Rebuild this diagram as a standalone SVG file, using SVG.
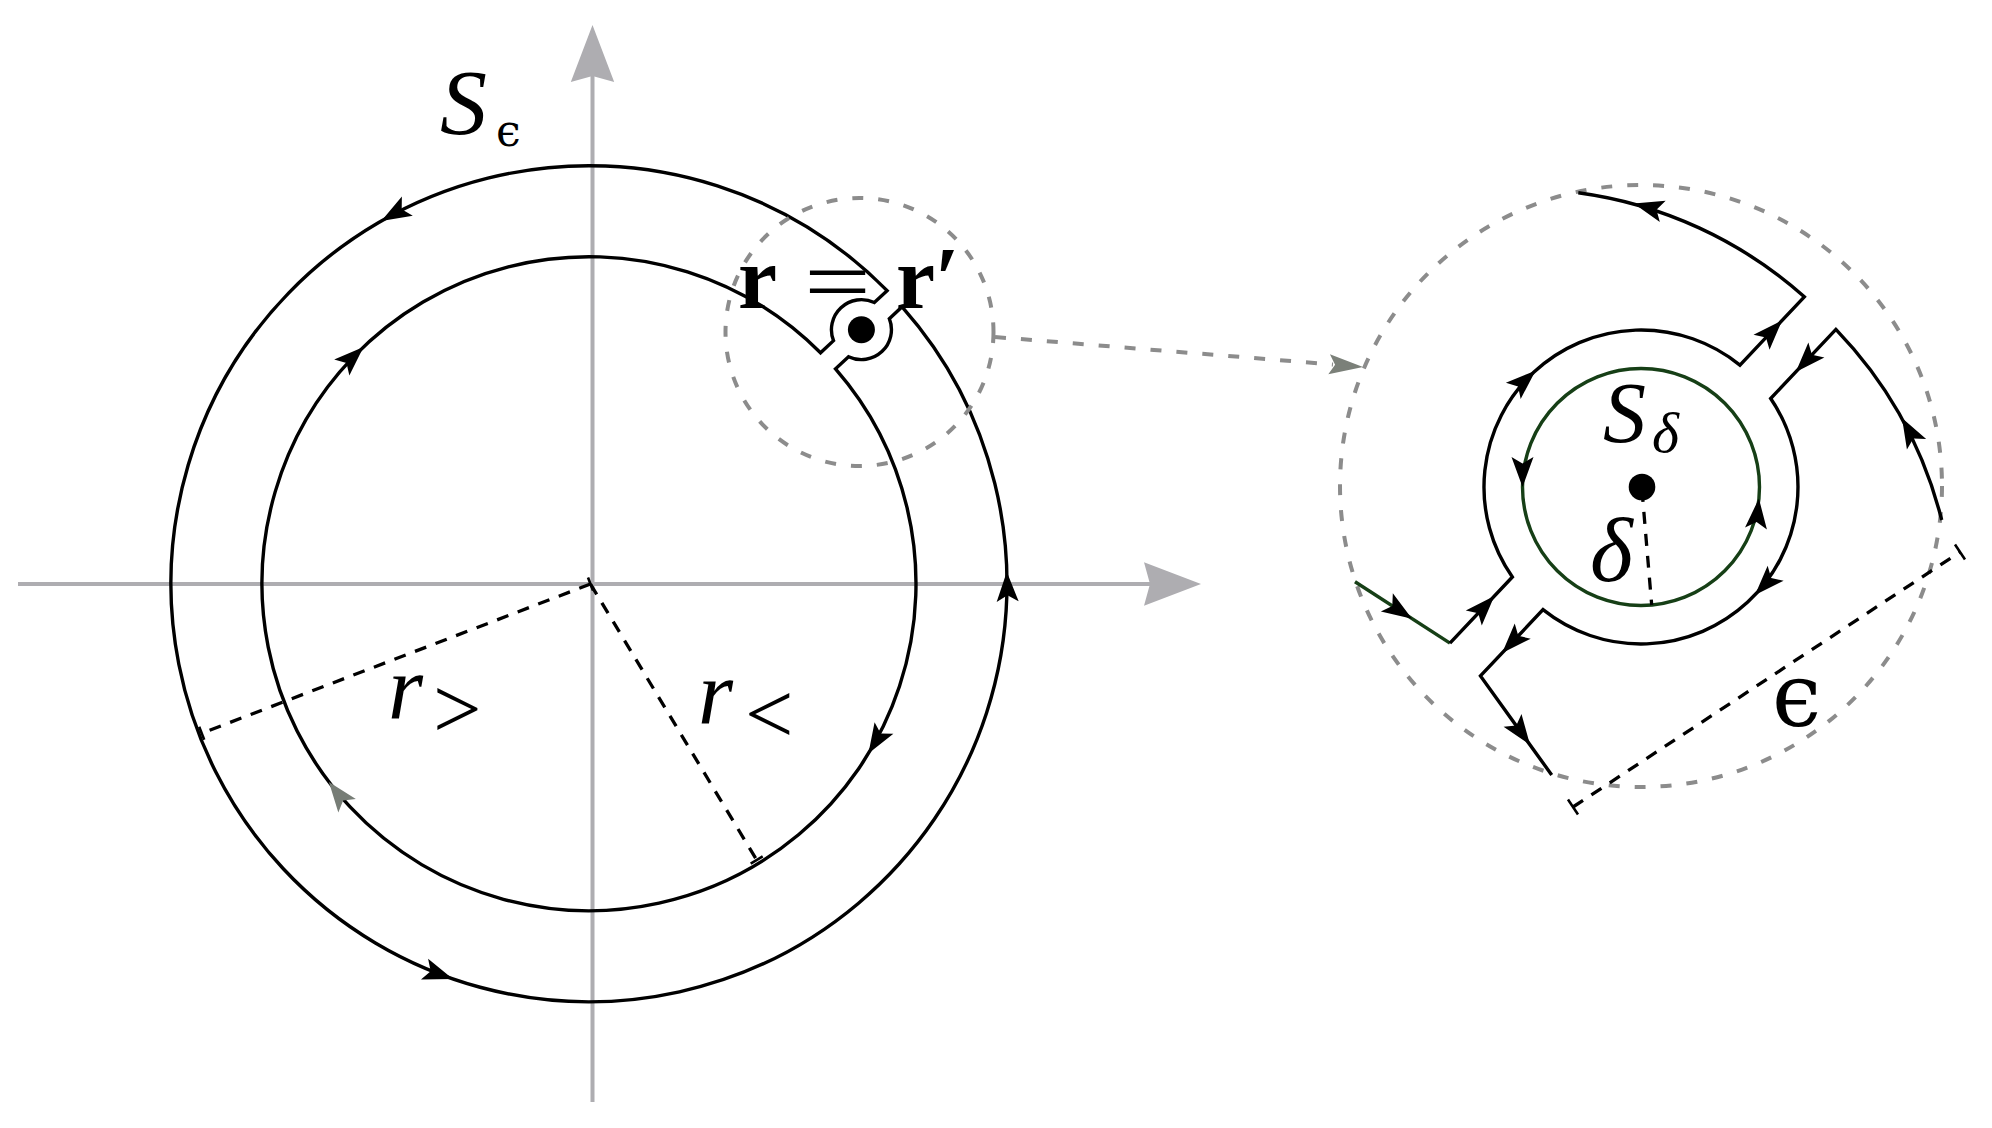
<svg xmlns="http://www.w3.org/2000/svg" xmlns:xlink="http://www.w3.org/1999/xlink" width="1992" height="1128" viewBox="0 0 1992 1128">
<style>
.ln{fill:none;stroke:#000;stroke-width:3.4;stroke-linejoin:miter;stroke-miterlimit:10}
.gr{fill:none;stroke:#163f16;stroke-width:3.4}
.dsh{fill:none;stroke:#000;stroke-width:3.3;stroke-dasharray:12 10}
.gdsh{fill:none;stroke:#8c8c8c;stroke-width:4;stroke-dasharray:11 15}
.axis{fill:none;stroke:#aeadb1;stroke-width:4}
.tick{fill:none;stroke:#000;stroke-width:2.6}
.mi{font-family:"Liberation Serif","DejaVu Serif",serif;font-style:italic;fill:#000}
.bf{font-family:"Liberation Serif","DejaVu Serif",serif;font-weight:bold;fill:#000}
.rm{font-family:"Liberation Serif","DejaVu Serif",serif;fill:#000}
.eps{font-family:"DejaVu Serif","Liberation Serif",serif;fill:#000}
</style>
<defs>
<path id="ah" d="M0,0 L-30,-11 L-23.5,0 L-30,11 Z"/>
<path id="axh" d="M0,0 L-57,-21.7 L-51,0 L-57,21.7 Z" fill="#aeadb1"/>
<path id="gah" d="M0,0 L-34,-10 L-28,0 L-34,10 Z" fill="#7b8079"/>
</defs>
<rect width="1992" height="1128" fill="#fff"/>

<g id="axes">
<line class="axis" x1="18" y1="584" x2="1150" y2="584"/>
<line class="axis" x1="592.5" y1="1102" x2="592.5" y2="76"/>
<use href="#axh" transform="translate(1201,584)"/>
<use href="#axh" transform="translate(592.5,25) rotate(-90)"/>
</g>

<g id="radii">
<line class="dsh" x1="590.5" y1="584" x2="201.7" y2="733.3"/>
<line class="tick" x1="199.2" y1="726.8" x2="204.2" y2="739.8"/>
<line class="tick" x1="588" y1="577.5" x2="593" y2="590.5"/>
<line class="dsh" x1="590.5" y1="584" x2="756.7" y2="860"/>
<line class="tick" x1="750.7" y1="863.6" x2="762.7" y2="856.4"/>
</g>

<g id="contour-main">
<path class="ln" transform="translate(589 583.7) rotate(-43)" d="M417.855,-11 A418,418 0 1 0 417.855,11 L400.41,11 A30,30 0 0 1 344.59,11 L326.815,11 A327,327 0 1 1 326.815,-11 L344.59,-11 A30,30 0 0 1 400.41,-11 Z"/>
<circle cx="861.4" cy="329.7" r="13.5" fill="#000"/>
<use href="#ah" transform="translate(1006.8,571.7) rotate(-91.65)"/>
<use href="#ah" transform="translate(381.3,221) rotate(150.2)"/>
<use href="#ah" transform="translate(452.9,978.9) rotate(19)"/>
<use href="#ah" transform="translate(363.5,346.9) rotate(-43.6)"/>
<use href="#ah" transform="translate(868.4,753.6) rotate(121.3)"/>
<use href="#ah" fill="#777d76" transform="translate(328.9,781.9) rotate(232.7)"/>
</g>

<g id="zoom-source">
<circle class="gdsh" cx="859.5" cy="332" r="134"/>
</g>

<g id="labels-main">
<text class="mi" x="440" y="134" font-size="94">S</text>
<text class="eps" x="496" y="146" font-size="44">ϵ</text>
<text class="bf" x="738" y="308" font-size="88">r</text>
<text class="rm" x="0" y="0" font-size="88" transform="translate(804,311) scale(1.35,1)">=</text>
<text class="bf" x="896" y="308" font-size="88">r′</text>
<text class="mi" x="388" y="718" font-size="90">r</text>
<text class="rm" x="433" y="738" font-size="86">&gt;</text>
<text class="mi" x="698" y="723" font-size="90">r</text>
<text class="rm" x="745" y="743" font-size="86">&lt;</text>
</g>

<g id="connectors">
<line class="gdsh" x1="995" y1="337" x2="1333" y2="364.5"/>
<use href="#gah" transform="translate(1363,367) rotate(4.66)"/>
</g>

<g id="detail">
<circle class="gdsh" cx="1641" cy="486" r="301"/>
<circle class="gr" cx="1641" cy="487" r="118.5"/>
<line class="dsh" x1="1642" y1="490" x2="1651.7" y2="605" stroke-dasharray="14 12"/>
<circle cx="1642" cy="487" r="13.3" fill="#000"/>
<path class="gr" d="M1355,581.7 L1449.95,643.17"/>
<path class="ln" d="M1449.95,643.17 L1512.36,577.01 A157,157 0 0 1 1739.93,365.09 L1804.32,296.84 A425,425 0 0 0 1578.3,192.7"/>
<path class="ln" d="M1941.7,520 A425,425 0 0 0 1835.9,329.38 L1770.68,398.51 A157,157 0 0 1 1543.01,609.66 L1480.47,675.95 L1551.7,775"/>
<use href="#ah" transform="translate(1633.8,203.5) rotate(195.3)"/>
<use href="#ah" transform="translate(1902,418) rotate(-119)"/>
<use href="#ah" transform="translate(1782.1,320.4) rotate(-46.7)"/>
<use href="#ah" transform="translate(1795.8,371.9) rotate(133.3)"/>
<use href="#ah" transform="translate(1494.35,596.1) rotate(-46.7)"/>
<use href="#ah" transform="translate(1502.15,652.96) rotate(133.3)"/>
<use href="#ah" transform="translate(1535.5,370.7) rotate(-42.2)"/>
<use href="#ah" transform="translate(1755,595) rotate(133.45)"/>
<use href="#ah" transform="translate(1522.5,487) rotate(90)"/>
<use href="#ah" transform="translate(1758.9,498.6) rotate(-84.4)"/>
<use href="#ah" transform="translate(1412,618.7) rotate(33)"/>
<use href="#ah" transform="translate(1530,744.7) rotate(54.4)"/>
<line class="dsh" x1="1573" y1="807" x2="1960" y2="552" stroke-dasharray="13 10"/>
<line class="tick" x1="1568" y1="799.5" x2="1578" y2="814.5"/>
<line class="tick" x1="1955" y1="544.5" x2="1965" y2="559.5"/>
<text class="mi" x="1603" y="442" font-size="86">S</text>
<text class="mi" x="1652" y="452" font-size="58">δ</text>
<text class="mi" x="1590" y="581" font-size="92">δ</text>
<text class="eps" x="1772" y="726" font-size="88">ϵ</text>
</g>
</svg>
